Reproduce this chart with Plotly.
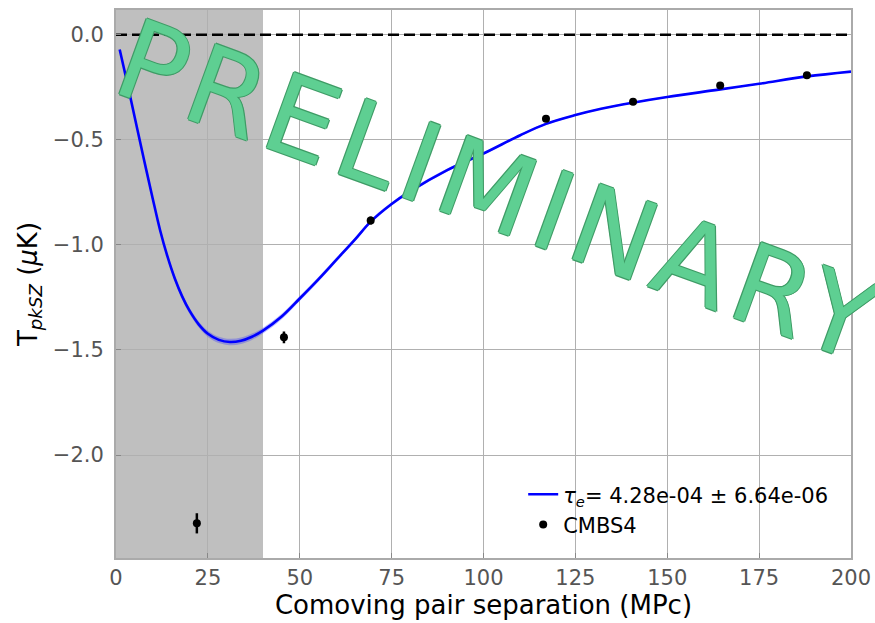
import plotly.graph_objects as go

# ---------------- data ----------------
data_x = [22.0, 45.7, 69.3, 117.0, 140.7, 164.4, 188.0]
data_y = [-2.325, -1.44, -0.884, -0.40, -0.319, -0.241, -0.193]
data_err = [0.048, 0.028, 0.019, 0.012, 0.008, 0.008, 0.008]

model_x = [1, 2.5, 5, 7.5, 10, 12, 14, 16, 18, 20, 22.5, 25, 28, 31, 34, 37, 40,
           45, 50, 55, 60, 65, 69.3, 75, 80, 90, 100, 110, 117, 125, 132, 141,
           150, 164, 175, 188, 200]
model_y = [-0.07, -0.185, -0.385, -0.585, -0.78, -0.93, -1.055, -1.16, -1.245,
           -1.313, -1.378, -1.423, -1.452, -1.462, -1.456, -1.437, -1.408,
           -1.342, -1.255, -1.165, -1.07, -0.975, -0.889, -0.805, -0.745, -0.645,
           -0.565, -0.478, -0.424, -0.382, -0.352, -0.322, -0.296, -0.261,
           -0.233, -0.198, -0.175]
model_err = [0.002, 0.004, 0.006, 0.008, 0.010, 0.011, 0.012, 0.013, 0.013,
             0.014, 0.014, 0.015, 0.015, 0.015, 0.015, 0.015, 0.014,
             0.013, 0.012, 0.011, 0.010, 0.009, 0.009, 0.008, 0.008, 0.007,
             0.006, 0.005, 0.005, 0.004, 0.004, 0.004, 0.004, 0.003,
             0.003, 0.003, 0.003]

x_ticks = [0, 25, 50, 75, 100, 125, 150, 175, 200]
y_ticks = [0.0, -0.5, -1.0, -1.5, -2.0]
y_tick_text = ["0.0", "\u22120.5", "\u22121.0", "\u22121.5", "\u22122.0"]
x_range = [0, 200]
y_range = [-2.49, 0.118]
mask_range = [0, 40]
zero_level = [0, 0]

curve_label = "<i>\u03c4</i><sub><i>e</i></sub>= 4.28e-04 \u00b1 6.64e-06"
data_label = "CMBS4"

FONT = "DejaVu Sans"

# ---------------- figure ----------------
fig = go.Figure()

upper = [y + e for y, e in zip(model_y, model_err)]
lower = [y - e for y, e in zip(model_y, model_err)]

fig.add_trace(go.Scatter(x=x_range, y=zero_level, mode="lines", showlegend=False,
                         hoverinfo="skip",
                         line=dict(color="black", width=2.5, dash="11px,5px")))
fig.add_trace(go.Scatter(x=model_x, y=upper, mode="lines", line=dict(width=0, shape="spline"),
                         showlegend=False, hoverinfo="skip"))
fig.add_trace(go.Scatter(x=model_x, y=lower, mode="lines", line=dict(width=0, shape="spline"),
                         fill="tonexty", fillcolor="rgba(60,60,255,0.35)",
                         showlegend=False, hoverinfo="skip"))
fig.add_trace(go.Scatter(x=model_x, y=model_y, mode="lines", name=curve_label,
                         line=dict(color="#0000ff", width=2.6, shape="spline")))
fig.add_trace(go.Scatter(x=data_x, y=data_y, mode="markers", name=data_label,
                         marker=dict(color="black", size=8),
                         error_y=dict(type="data", array=data_err, color="black",
                                      thickness=2.5, width=0)))

# shaded excluded region
fig.add_shape(type="rect", xref="x", yref="paper", x0=mask_range[0], x1=mask_range[1],
              y0=0, y1=1, fillcolor="rgba(128,128,128,0.5)", line=dict(width=0),
              layer="between")

fig.add_annotation(
    xref="paper", yref="paper", x=0.522, y=0.668, xanchor="center", yanchor="middle",
    text='<span style="letter-spacing:7px">PRELIMINARY</span>',
    showarrow=False, textangle=20,
    font=dict(family=FONT, size=110, color="#5ecf92",
              shadow="1.2px 0 0 #3f9c66, -1.2px 0 0 #3f9c66, 0 1.2px 0 #3f9c66, 0 -1.2px 0 #3f9c66"),
)

axis_common = dict(
    showgrid=True, gridcolor="#b0b0b0", gridwidth=1,
    showline=True, linecolor="#aaaaaa", linewidth=2, mirror=True,
    ticks="inside", ticklen=5, tickwidth=1, tickcolor="#888888",
    tickfont=dict(family=FONT, size=21, color="#555555"),
    zeroline=False,
)

fig.update_xaxes(range=x_range, tickvals=x_ticks, **axis_common,
                 title=dict(text="Comoving pair separation (MPc)",
                            font=dict(family=FONT, size=26, color="black"), standoff=6))
fig.update_yaxes(range=y_range, tickvals=y_ticks, ticktext=y_tick_text, **axis_common,
                 ticklabelstandoff=6,
                 title=dict(text="T<sub><i>pkSZ</i></sub> (<i>\u03bc</i>K)",
                            font=dict(family=FONT, size=26, color="black"), standoff=8))

fig.update_layout(
    width=875, height=623,
    margin=dict(l=116, r=24, t=10, b=65, autoexpand=False),
    paper_bgcolor="white", plot_bgcolor="white",
    font=dict(family=FONT),
    showlegend=True,
    legend=dict(x=0.554, y=0.153, xanchor="left", yanchor="top", traceorder="normal",
                bgcolor="rgba(0,0,0,0)", borderwidth=0,
                font=dict(family=FONT, size=21, color="black")),
)

fig.write_html("out.html")
